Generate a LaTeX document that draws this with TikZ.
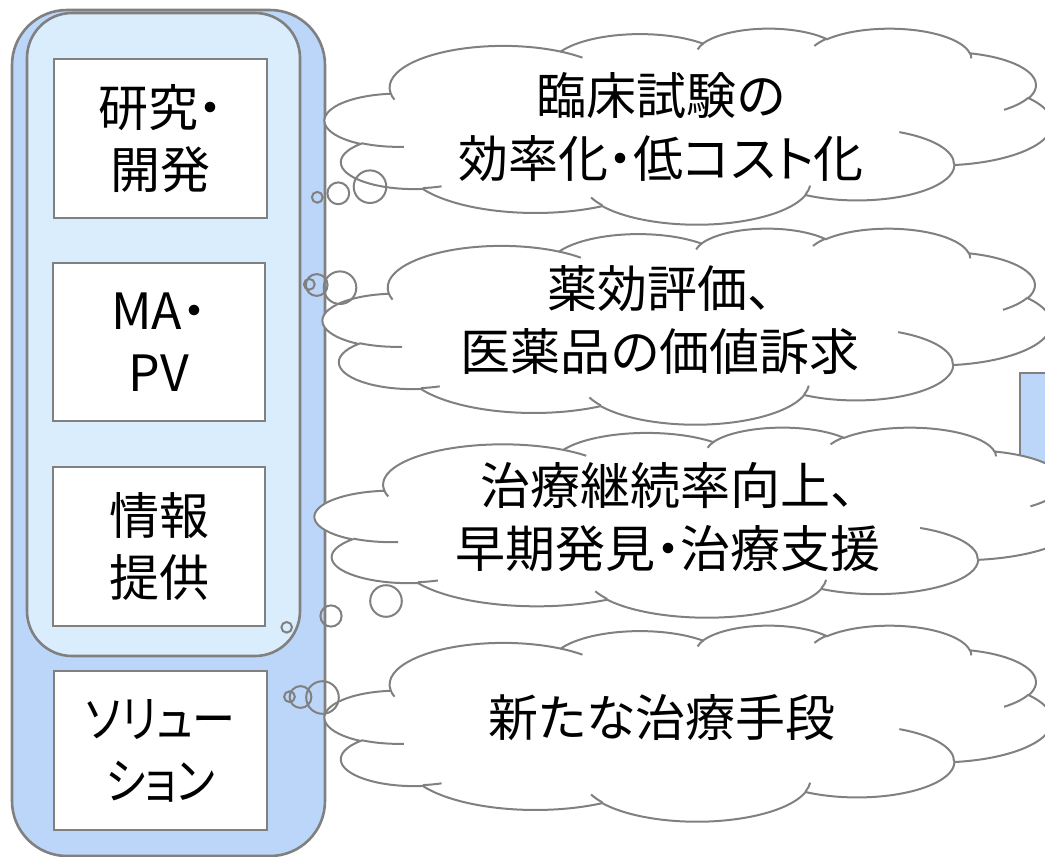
\documentclass[tikz,border=0pt]{standalone}
\usepackage{fontspec}
\usepackage{graphicx}
\setmainfont{Noto Sans CJK JP}[RawFeature=+palt]
\definecolor{gr}{RGB}{128,128,128}
\definecolor{blueO}{RGB}{187,214,249}
\definecolor{blueI}{RGB}{218,237,253}
\pgfmathdeclarefunction{ooang}{3}{%
  \begingroup
  \pgfmathparse{atan2((#1)*sin(#3),(#2)*cos(#3))-(#3)}%
  \pgfmathparse{(#3)+\pgfmathresult-360*round(\pgfmathresult/360)}%
  \pgfmathsmuggle\pgfmathresult
  \endgroup}
\tikzset{
  ooarc/.style n args={4}{insert path={arc[start angle={ooang(#1,#2,#3)}, end angle={ooang(#1,#2,#3+#4)}, x radius={(#1/432)*1pt}, y radius={(#2/432)*1pt}]}},
  cl/.style={draw=gr, line width=2pt},
  panel/.style={draw=gr, line width=2.6pt},
  whitebox/.style={draw=gr, line width=2pt, fill=white, inner sep=0pt, align=center, font=\fontsize{50}{62}\selectfont},
  cloudtext/.style={inner sep=0pt, align=center, font=\fontsize{50}{63}\selectfont},
}
\newcommand\ppcloud[4]{%
\begin{scope}[shift={(#1,#2)}]
\begin{scope}[x=1pt,y=1pt,xscale=#3/100,yscale=-#4/100]
\filldraw[cl,fill=white] (9.0278,33.2639)
 [ooarc={6753}{9190}{-190.48748}{123.78053}]
 [ooarc={5333}{7267}{-144.10238}{89.94523}]
 [ooarc={4365}{5945}{-145.80792}{99.72302}]
 [ooarc={4857}{6595}{-130.98607}{117.24173}]
 [ooarc={5333}{7273}{-78.70888}{109.02692}]
 [ooarc={6775}{9220}{-46.26725}{130.26900}]
 [ooarc={5785}{7867}{0.62502}{114.03333}]
 [ooarc={6752}{9215}{22.45160}{115.17255}]
 [ooarc={7720}{10543}{66.24263}{75.71102}]
 [ooarc={4360}{5918}{-274.94208}{146.73557}]
 [ooarc={4345}{5945}{-246.82850}{152.51885}]
 -- cycle;
\draw[cl]
 (10.8634,60.5949) [ooarc={4345}{5945}{86.74200}{26.42950}]
 (16.0370,80.7847) [ooarc={4360}{5918}{73.61047}{11.44747}]
 (38.1435,90.4861) [ooarc={6752}{9215}{137.62415}{14.08110}]
 (66.7292,80.4421) [ooarc={6752}{9215}{6.45327}{15.99835}]
 (79.0023,53.1343) [ooarc={5785}{7867}{-70.29235}{70.91737}]
 (96.7546,35.5417) [ooarc={5333}{7273}{30.31803}{27.75150}]
 (88.7130,12.5602) [ooarc={4857}{6595}{-13.74433}{14.85890}]
 (67.3102,9.1481) [ooarc={4857}{6595}{-149.18145}{18.19537}]
 (51.2523,10.9259) [ooarc={4365}{5945}{-163.49427}{17.68635}]
 (32.4074,12.0185) [ooarc={6753}{9190}{-66.70695}{12.31935}]
 (9.5532,36.5486) [ooarc={6753}{9190}{157.65435}{11.85817}];
\end{scope}\end{scope}}
\begin{document}
\begin{tikzpicture}[x=1pt,y=-1pt]
\useasboundingbox (0,0) rectangle (1045,857);
\clip (0,0) rectangle (1045,857);
% left panel
\draw[panel, fill=blueO, rounded corners=55pt] (12,10) rectangle (325,856);
\draw[panel, fill=blueI, rounded corners=45pt] (27,13) rectangle (300,656);
\node[whitebox, minimum width=213pt, minimum height=159pt] (b1) at (160.5,138.5) {研究・\\開発};
\node[whitebox, minimum width=212pt, minimum height=158pt] (b2) at (159,342) {MA・\\PV};
\node[whitebox, minimum width=212pt, minimum height=159pt] (b3) at (159,546.5) {情報\\提供};
\node[whitebox, minimum width=213pt, minimum height=159pt] (b4) at (160.5,750.5) {\scalebox{0.86}[1]{ソリュー}\\\scalebox{0.86}[1]{ション}};
% right blue rectangle (partly hidden)
\draw[panel, fill=blueO] (1020,373) rectangle (1120,530);
% clouds
\ppcloud{325}{28}{727}{196}
\ppcloud{323}{228}{728}{196}
\ppcloud{315}{427}{766}{190}
\ppcloud{325}{625}{727}{196}
% bubbles
\draw[cl] (317.3,197.3) circle[radius=5.4pt] (338.3,193.3) circle[radius=10.9pt] (370,186.7) circle[radius=16.3pt];
\draw[cl] (309.3,284.3) circle[radius=5.4pt] (316.7,285) circle[radius=10.9pt] (340,287.7) circle[radius=16.3pt];
\draw[cl] (286.7,627.3) circle[radius=5.3pt] (331,616) circle[radius=10.6pt] (386,601) circle[radius=15.8pt];
\draw[cl] (289.5,696.7) circle[radius=5.4pt] (300.5,697) circle[radius=10.9pt] (322.5,697.5) circle[radius=16.3pt];
% cloud texts
\node[cloudtext] (c1) at (661,127) {臨床試験の\\効率化・低コスト化};
\node[cloudtext] (c2) at (660,320) {薬効評価、\\医薬品の価値訴求};
\node[cloudtext] (c3) at (668,517) {治療継続率向上、\\早期発見・治療支援};
\node[cloudtext] (c4) at (662,718) {新たな治療手段};
\end{tikzpicture}
\end{document}
